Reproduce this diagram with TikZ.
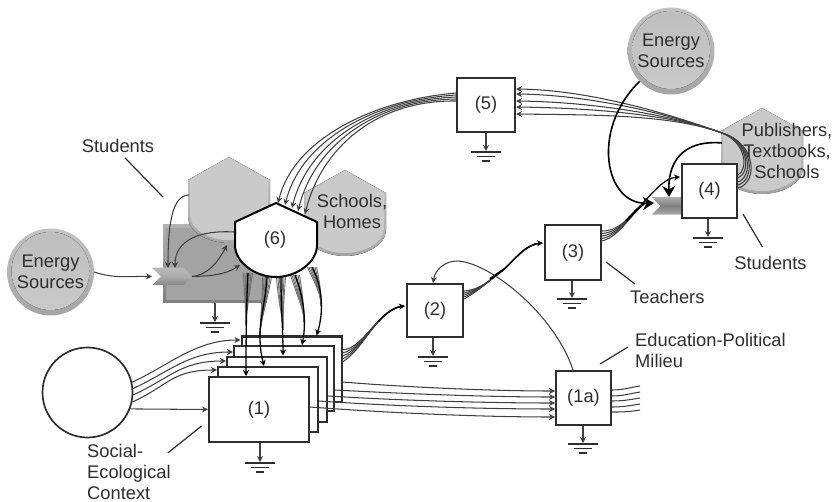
\documentclass[tikz,border=0pt]{standalone}
\usepackage{fontspec}
\setmainfont{Liberation Sans}
\usetikzlibrary{arrows.meta,shapes.symbols,calc}
\definecolor{ink}{HTML}{2E2E2E}
\definecolor{wire}{HTML}{404040}
\tikzset{
  lab/.style={font=\fontsize{18.3}{21}\selectfont,text=ink,inner sep=0pt,align=center},
  labl/.style={lab,align=left,anchor=west},
  boxn/.style={draw=ink,fill=white,line width=2pt,rectangle,inner sep=0pt,font=\fontsize{18.3}{21}\selectfont,text=ink},
  tiny/.style={-{Stealth[length=6pt,width=6pt]}},
  wr/.style={draw=wire,line width=1.05pt},
  wa/.style={wr,tiny},
  big/.style={-{Stealth[length=11pt,width=13pt]},draw=black,line width=1.6pt},
  lead/.style={draw=ink,line width=1.2pt},
  gbar/.style={draw=ink,line width=1.7pt},
  gnd/.pic={\draw[gbar] (-15,0)--(15,0); \draw[gbar] (-9,4.5)--(9,4.5); \draw[gbar] (-4,9)--(4,9);},
  orb/.style={circle,minimum size=87pt,inner sep=0pt,top color=#1!65!white,bottom color=#1,
    font=\fontsize{18.3}{21}\selectfont,text=ink,align=center,
    path picture={\fill[top color=c1,bottom color=c2] (path picture bounding box.center) ++(0,1pt) circle (39pt);}},
  chev/.style={signal,signal to=east,signal from=west,signal pointer angle=90,inner sep=0pt,minimum width=40pt,minimum height=17.5pt},
}
\definecolor{c1}{HTML}{BEBEBE}
\definecolor{c2}{HTML}{CACACA}
\definecolor{rim}{HTML}{A4A4A4}
\newcommand{\hexoutline}{(0,0) -- (41,23) -- (41,60) .. controls (41,75) and (20,86) .. (0,86) .. controls (-20,86) and (-41,75) .. (-41,60) -- (-41,23) -- cycle}
\newcommand{\grayhex}[1]{\begin{scope}[shift={#1}]
  \fill[top color=rim!60!white,bottom color=rim] \hexoutline;
  \begin{scope}[shift={(0,1.5)},scale=.95]\fill[c2] \hexoutline;\end{scope}
\end{scope}}
\begin{document}
\begin{tikzpicture}[x=1pt,y=-1pt]
\useasboundingbox (0,0) rectangle (832,502);

% backdrop shapes
\node[rectangle,minimum width=104pt,minimum height=78pt,inner sep=0pt,top color=gray!60,bottom color=gray!100] (rect) at (215,264) {};
\fill[gray!72] (166,228) rectangle (265,300);
\grayhex{(229,157)}
\grayhex{(345,170)}
\grayhex{(762,108)}
\coordinate (stutop) at (229,157);
\coordinate (pubtop) at (762,108);

% orbs
\node[orb=rim] (enL) at (50.5,272) {Energy\\Sources};
\node[orb=rim] (enT) at (671,51) {Energy\\Sources};

% boxes of the stack
\node[boxn,minimum width=100pt,minimum height=65pt] (se) at (291.5,369) {};
\node[boxn,minimum width=100pt,minimum height=65pt] (sd) at (284,378.5) {};
\node[boxn,minimum width=100pt,minimum height=65pt] (sc) at (277,389) {};
\node[boxn,minimum width=100pt,minimum height=65pt] (sb) at (268,399.5) {};
\node[boxn,minimum width=100pt,minimum height=65pt] (sa) at (259,409.5) {(1)};
\node[circle,draw=ink,line width=1.7pt,minimum size=90pt,inner sep=0pt] (ctx) at (87.5,392.5) {};

\node[boxn,minimum width=56pt,minimum height=53pt] (b2) at (435,310.5) {(2)};
\node[boxn,minimum width=56pt,minimum height=55pt] (b3) at (573,252.5) {(3)};
\node[boxn,minimum width=55pt,minimum height=54pt] (b1a) at (583.5,398) {(1a)};
\node[boxn,minimum width=58pt,minimum height=54pt] (b5) at (486,105) {(5)};

% chevrons
\node[chev,top color=gray!55,bottom color=gray!95,middle color=gray!65] (chL) at (172,276.5) {};
\node[chev,top color=gray!65,bottom color=gray!65,middle color=gray!100] (chR) at (671.5,206) {};

% context to stack
\foreach \ang/\ex/\ey in {13.5/se/-29,5.7/sd/-26.5,-3/sc/-28,-12/sb/-29.5}{
  \draw[wa] (ctx.\ang) .. controls +(37,-17) and ([shift={(-45,\ey)}]\ex.west) .. ([shift={(0,\ey)}]\ex.west);
}
\draw[wa] (ctx.-21) -- (sa.west);

% stack to 1a
\draw[wa] ([shift={(0,13)}]se.east) .. controls (390,386) and (480,391) .. ([shift={(0,-7)}]b1a.west);
\draw[wa] ([shift={(0,11.5)}]sd.east) .. controls (390,393) and (480,397) .. ([shift={(0,-1)}]b1a.west);
\draw[wa] ([shift={(0,7)}]sc.east) .. controls (390,400) and (480,403) .. ([shift={(0,5)}]b1a.west);
\draw[wa] ([shift={(0,1.5)}]sb.east) .. controls (390,406) and (480,409) .. ([shift={(0,11)}]b1a.west);
\draw[wa] ([shift={(0,-2.5)}]sa.east) .. controls (390,413) and (480,417) .. ([shift={(0,19)}]b1a.west);

% 1a outputs
\coordinate (o1) at (640,386);\coordinate (o2) at (640,392);\coordinate (o3) at (640,398);\coordinate (o4) at (640,404);\coordinate (o5) at (640,410);
\draw[wr] ([shift={(0,-8)}]b1a.east) .. controls +(10,0) and +(-12,2) .. (o1);
\draw[wr] ([shift={(0,-2)}]b1a.east) .. controls +(10,0) and +(-12,2) .. (o2);
\draw[wr] ([shift={(0,3)}]b1a.east) .. controls +(10,0) and +(-12,2) .. (o3);
\draw[wr] ([shift={(0,9)}]b1a.east) .. controls +(10,0) and +(-12,2) .. (o4);
\draw[wr] ([shift={(0,14)}]b1a.east) .. controls +(10,0) and +(-12,2) .. (o5);

% 1a back to 2
\draw[wa] ([shift={(-10.5,0)}]b1a.north) .. controls (555,315) and (490,262) .. (457,261) .. controls (445,261) and (435,270) .. ([shift={(-2,0)}]b2.north);

% stack to 2
\foreach \d in {-19,-16,-13,-10,-7}{
  \draw[wr] ([shift={(0,\d)}]se.east) .. controls (365,348) and (378,308) .. ([shift={(-2,-4.5)}]b2.west);
}
\draw[tiny,draw=black,line width=1.4pt] (378,322) .. controls (388,311) and (396,307) .. ([shift={(-1,-4.5)}]b2.west);

% 2 to 3
\foreach \d in {-19.5,-17.5,-15.5,-13.5,-11.5}{
  \draw[wr] ([shift={(0,\d)}]b2.east) .. controls (480,290) and (490,280) .. (503,270) .. controls (515,260) and (525,244) .. ([shift={(-2,-9.5)}]b3.west);
}
\draw[draw=black,line width=2.2pt] (490,279) .. controls (496,275) and (500,272) .. (503,270);
\draw[tiny,draw=black,line width=1.3pt] (503,270) .. controls (515,260) and (525,244) .. ([shift={(-1,-9.5)}]b3.west);

% 6 to stack: tapering fans
\node[boxn,draw=none,fill=none,minimum width=82pt,minimum height=74pt] (six) at (275,240) {};
\foreach \tx/\ty/\cx/\cy/\ax/\ay in {
  -27/33/247/295/246/325,
  -8/37/265/300/260/335,
  6/37/281/305/283/330,
  20/35/301/300/304/322,
  37/27/318/285/321/306}{
  \foreach \o in {-4.5,-3,-1.5,0,1.5,3,4.5}{
    \draw[draw=wire!75,line width=.9pt] ([shift={(\tx+\o,\ty)}]six.center) .. controls (\cx+.55*\o,\cy) and (\ax,\ay-12) .. (\ax,\ay);
  }
}
\draw[tiny,draw=black,line width=1.3pt] ([shift={(-27,33)}]six.center) .. controls (247,290) and (246,320) .. ([shift={(-13,0)}]sa.north);
\draw[tiny,draw=black,line width=1.3pt] ([shift={(-8,37)}]six.center) .. controls (265,310) and (255,330) .. ([shift={(-4,0)}]sb.north);
\draw[tiny,draw=black,line width=1.3pt] ([shift={(6,37)}]six.center) .. controls (281,310) and (283,330) .. ([shift={(6,0)}]sc.north);
\draw[tiny,draw=black,line width=1.3pt] ([shift={(20,35)}]six.center) .. controls (305,300) and (306,325) .. ([shift={(18,0)}]sd.north);
\draw[tiny,draw=black,line width=1.3pt] ([shift={(37,27)}]six.center) .. controls (324,290) and (323,315) .. ([shift={(25,0)}]se.north);

% 6 outline
\begin{scope}[shift={(276,203)}]
  \draw[draw=black,fill=white,line width=2pt] (0,0) -- (41,19) -- (41,42) .. controls (41,60) and (20,74) .. (0,74) .. controls (-20,74) and (-41,60) .. (-41,42) -- (-41,19) -- cycle;
\end{scope}
\node[lab] at (six) {(6)};

% 5 to 6
\foreach \s/\ex/\ey in {-12/3/-37,-10/10/-35,-8/17/-32,-6/23/-29,-4/30/-26}{
  \draw[wa] ([shift={(0,\s)}]b5.west) .. controls (375,100) and ($(six.center)+(\ex+16,\ey-65)$) .. ([shift={(\ex,\ey)}]six.center);
}

% 4 box
\node[boxn,minimum width=55pt,minimum height=54pt] (b4) at (709.5,191) {(4)};

% 4 to 5
\coordinate (conv) at (722,133);
\foreach \d/\rx/\e in {-3/755/-16,-6/752.5/-11,-9/750/-4,-13/747.5/2,-16/745/9}{
  \draw[wr] ([shift={(0,\d)}]b4.east) .. controls (\rx+3,186+\d) and (\rx+2,143) .. (conv);
  \draw[wa] (conv) .. controls (670,114) and (590,105+\e+1) .. ([shift={(0,\e)}]b5.east);
}

% 3 to chevron
\foreach \d in {-21.5,-19,-16.5,-14,-11.5}{
  \draw[wr] ([shift={(0,\d)}]b3.east) .. controls (620,250+\d*.5-8) and (630,215) .. ([shift={(-27,-3)}]chR.center);
}
\draw[draw=black,line width=2.4pt] (626,221) .. controls (632,215) and (638,208) .. ([shift={(-27,-3)}]chR.center);
% chevron to 4
\draw[tiny,draw=black,line width=1.3pt] ([shift={(-28.5,-3)}]chR.center) .. controls (655,190) and (665,178) .. ([shift={(-1,-14)}]b4.west);
% energy to chevron
\draw[big] (enT.224) .. controls (590,130) and (605,205) .. ([shift={(-17.5,-3)}]chR.center);
% publishers to chevron
\draw[big] ([shift={(-40,35)}]pubtop) .. controls (690,140) and (668,155) .. ([shift={(-2.5,-9)}]chR.center);

% left chevron
\draw[wa] (enL.east) .. controls (115,279) and (130,276) .. ([shift={(-20,0)}]chL.center);
\draw[wa] ([shift={(-40,38)}]stutop) .. controls (172,195) and (168,225) .. ([shift={(-4,-8.5)}]chL.center);
\draw[wa] ([shift={(-41,-8)}]six.center) .. controls (200,230) and (175,240) .. ([shift={(3,-8.5)}]chL.center);
\draw[wa] ([shift={(20,0)}]chL.center) .. controls (208,275) and (218,262) .. ([shift={(-48,5)}]six.center);
\draw[wa] ([shift={(20,0)}]chL.center) .. controls (210,276) and (225,275) .. ([shift={(-35,25)}]six.center);

% grounds
\foreach \nm/\x/\y in {sa/260/463,b2/433/357,b3/572/299,b1a/583/444,b4/708/238,b5/486/152,rect/215/323}{
  \coordinate (g\nm) at (\x,\y);
  \pic at (g\nm) {gnd};
  \draw[wa] (g\nm |- \nm.south) -- ($(g\nm)+(0,-1)$);
}

% labels and leader lines
\node[lab] (lS) at (118,146) {Students};
\coordinate (lS2) at (163,197);
\draw[lead] ([shift={(7,5)}]lS.south) -- (lS2);
\node[labl] (lC) at (87,472) {Social-\\Ecological\\Context};
\coordinate (lC2) at (201.5,426);
\draw[lead] ([shift={(-3,-19)}]lC.east) -- (lC2);
\node[labl] (lE) at (635,350) {Education-Political\\Milieu};
\coordinate (lE2) at (600,364);
\draw[lead] ([shift={(-7,-3)}]lE.west) -- (lE2);
\node[labl] (lT) at (630,297) {Teachers};
\coordinate (lT2) at (606,262);
\draw[lead] ([shift={(5,-13)}]lT.west) -- (lT2);
\node[lab] (lR) at (770.5,263) {Students};
\coordinate (lR2) at (743,214);
\draw[lead] ([shift={(-8,-9)}]lR.north) -- (lR2);
\node[lab] (lP) at (787,151) {Publishers,\\Textbooks,\\Schools};
\node[lab] (lH) at (352,211) {Schools,\\Homes};
\end{tikzpicture}
\end{document}
